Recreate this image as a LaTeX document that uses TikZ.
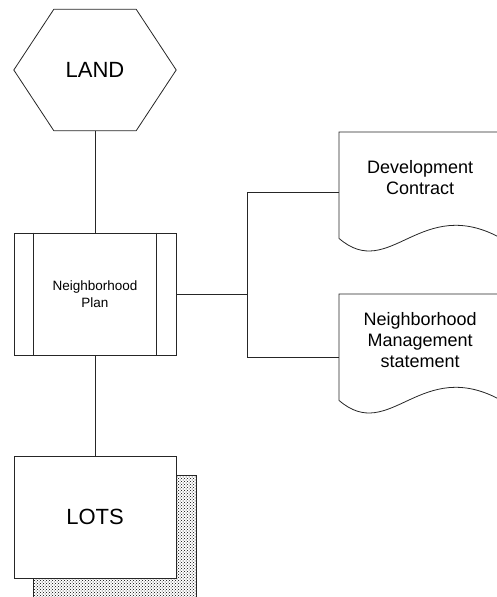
\documentclass[tikz,border=0pt]{standalone}
\usepackage{fontspec}
\setmainfont{Liberation Sans}
\usepackage{tikz}
\usetikzlibrary{positioning}
\usetikzlibrary{patterns,backgrounds}
\tikzset{line/.style = {draw=black!85, line width=0.8pt}}

\begin{document}
\begin{tikzpicture}[x=1pt,y=-1pt,node distance=224pt,
    big node/.style={rectangle,inner sep=0pt,minimum width=162pt,minimum height=122pt,font=\fontsize{22}{26}\selectfont},
    plan node/.style={big node,line,font=\fontsize{13.5}{16.5}\selectfont,align=center},
    doc node/.style={rectangle,inner sep=0pt,minimum width=162pt,minimum height=106pt,anchor=north west},
    doc text/.style={align=center,font=\fontsize{18}{21}\selectfont}]
    \useasboundingbox (0,0) rectangle (496,597);

    \node[big node,minimum height=121pt] (land) at (95,70) {LAND};
    \node[plan node] (plan) [below of=land] {Neighborhood\\Plan};
    \node[big node,line,fill=white,node distance=223pt] (lots) [below of=plan] {LOTS};

    % hexagon round LAND
    \draw[line] (land.west) -- ([xshift=40pt]land.north west) -- ([xshift=-40pt]land.north east)
        -- (land.east) -- ([xshift=-40pt]land.south east) -- ([xshift=40pt]land.south west) -- cycle;

    % side bars of the plan box
    \draw[line] ([xshift=20pt]plan.north west) -- ([xshift=20pt]plan.south west);
    \draw[line] ([xshift=-20pt]plan.north east) -- ([xshift=-20pt]plan.south east);

    % shadow of LOTS
    \begin{scope}[on background layer]
        \path[draw=black!85,line width=0.6pt,fill=black!15,pattern=crosshatch dots,pattern color=black]
            ([shift={(20,20)}]lots.north west) rectangle ([shift={(20,20)}]lots.south east);
    \end{scope}

    % documents
    \node[doc node] (contract) at (339,132) {};
    \node[doc node] (mgmt) at (339,294) {};
    \foreach \d in {contract,mgmt}
        \draw[line] (\d.south west) -- (\d.north west) -- (\d.north east) -- (\d.south east)
            .. controls +(-81,-45) and +(51,44) .. (\d.south west);
    \node[doc text] (contracttext) at ([yshift=-46pt]contract.north) {Development\\Contract};
    \node[doc text] (mgmttext) at ([yshift=-46pt]mgmt.north) {Neighborhood\\Management\\statement};

    % connectors
    \coordinate (b1) at (247,192);
    \coordinate (b2) at (247,357);
    \path[line] (land) edge (plan)
        (plan) edge (lots);
    \draw[line] (plan.east) -- (plan.east -| b1);
    \draw[line] (b1) -- (b2);
    \draw[line] (b1) -- (b1 -| contract.west);
    \draw[line] (b2) -- (b2 -| mgmt.west);
\end{tikzpicture}
\end{document}
